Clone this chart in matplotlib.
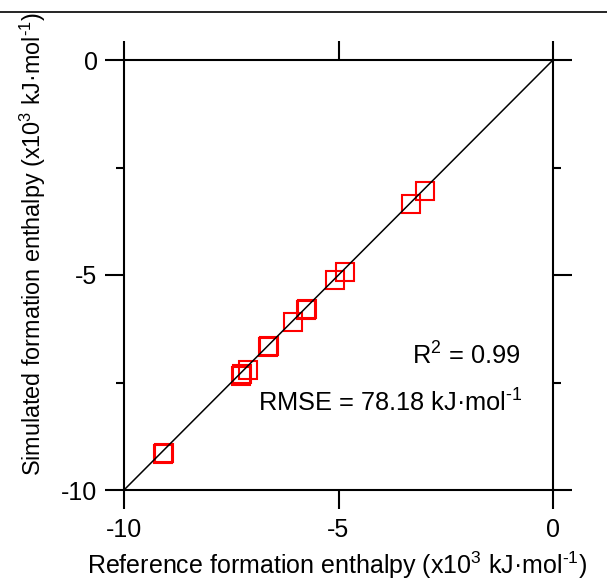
import matplotlib
matplotlib.use("Agg")
import matplotlib.pyplot as plt
from matplotlib.ticker import MultipleLocator
from matplotlib.lines import Line2D

plt.rcParams.update({
    "font.family": ["Liberation Sans", "DejaVu Sans"],
    "mathtext.fontset": "custom",
    "mathtext.rm": "Liberation Sans",
    "mathtext.it": "Liberation Sans:italic",
    "axes.unicode_minus": False,
    "font.size": 18,
})

# Formation enthalpies (x10^3 kJ/mol): reference vs. simulated
reference_h = [-9.08, -9.06, -7.27, -7.25, -7.12, -6.64, -6.62, -6.06,
               -5.75, -5.73, -5.09, -4.85, -3.31, -2.98]
simulated_h = [-9.17, -9.15, -7.34, -7.31, -7.20, -6.67, -6.65, -6.10,
               -5.82, -5.80, -5.12, -4.94, -3.36, -3.04]

parity = [-10, 0]
r2_text = r"R$^2$ = 0.99"
rmse_text = r"RMSE = 78.18 kJ·mol$^{\text{-}1}$"
x_label = r"Reference formation enthalpy (x10$^3$ kJ·mol$^{\text{-}1}$)"
y_label = r"Simulated formation enthalpy (x10$^3$ kJ·mol$^{\text{-}1}$)"

W, H = 607, 582
fig = plt.figure(figsize=(W / 100, H / 100), dpi=100)
ax = fig.add_axes([124 / W, 1 - 490 / H, (553 - 124) / W, (490 - 60) / H])

ax.plot(reference_h, simulated_h, linestyle="none", marker="s",
        markersize=12.5, markerfacecolor="none", markeredgecolor="#ff0000",
        markeredgewidth=1.5, zorder=2)
ax.plot(parity, parity, color="black", linewidth=1.1, zorder=3)

ax.set_xlim(-10, 0)
ax.set_ylim(-10, 0)
ax.xaxis.set_major_locator(MultipleLocator(5))
ax.yaxis.set_major_locator(MultipleLocator(5))
ax.yaxis.set_minor_locator(MultipleLocator(2.5))

for s in ax.spines.values():
    s.set_linewidth(1.5)

ax.tick_params(axis="both", which="major", direction="out", length=14,
               width=1.5, top=True, right=True, labelsize=18)
ax.tick_params(axis="x", which="major", pad=6)
ax.tick_params(axis="y", which="major", pad=5)
ax.tick_params(axis="y", which="minor", direction="out", length=6,
               width=1.5, left=True, right=True)

ax.text(-3.29, -7.09, r2_text, ha="left", va="baseline", fontsize=18.3)
ax.text(-6.88, -8.18, rmse_text, ha="left", va="baseline", fontsize=18.3)

fig.text(337 / W, 1 - 565 / H, x_label, ha="center", va="center", fontsize=18)
fig.text(33 / W, 1 - 244 / H, y_label, ha="center", va="center",
         rotation=90, fontsize=16.8)

# rule across the top of the figure
fig.add_artist(Line2D([0, 1], [1 - 12 / H, 1 - 12 / H], color="black",
                      linewidth=1.2, transform=fig.transFigure))

fig.savefig("out.png", dpi=100)
